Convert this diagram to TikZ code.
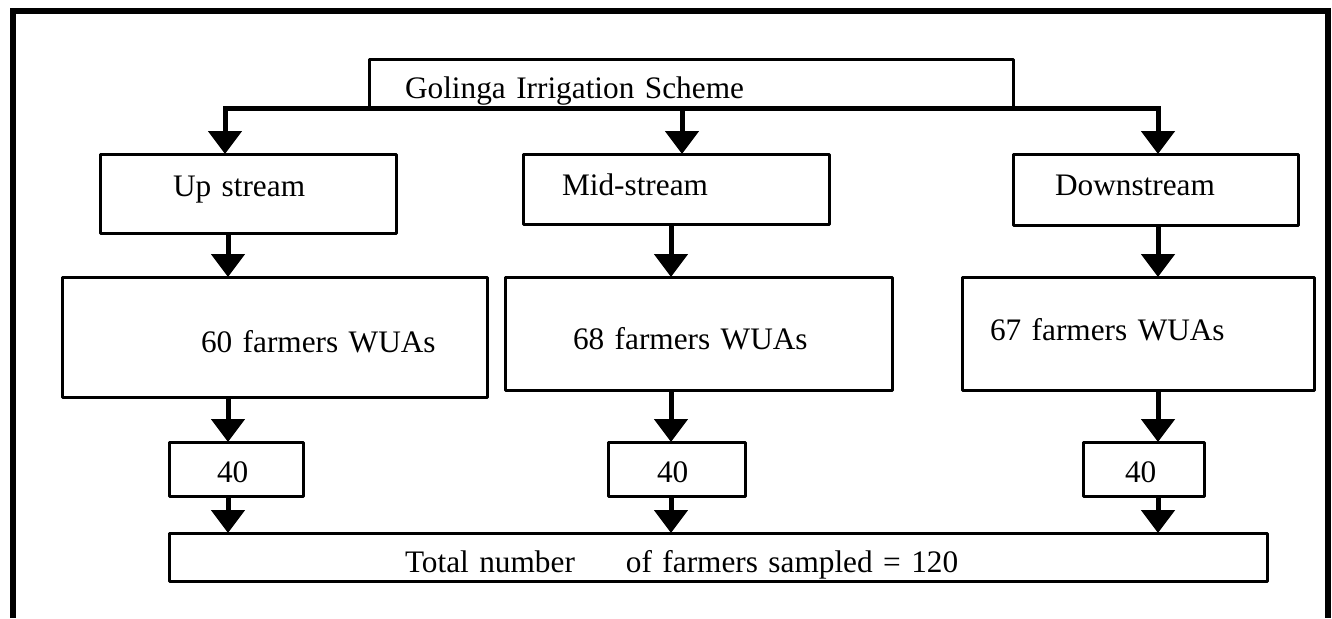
\documentclass[tikz,border=0pt]{standalone}
\usepackage{fontspec}
\setmainfont{Liberation Serif}
\usetikzlibrary{arrows.meta}
\begin{document}
\begin{tikzpicture}[x=1pt,y=-1pt,
  bx/.style={draw, line width=3pt, line join=round, inner sep=0pt, outer sep=0pt,
    align=left, anchor=north west, font=\fontsize{31.3}{38}\selectfont},
  conn/.style={line width=5pt, -{Triangle[width=33pt,length=23pt]}},
  frame/.style={line width=5.5pt, line join=miter}]
\useasboundingbox (0,0) rectangle (1332,618);
% outer frame
\draw[frame] (13,618) -- (13,11) -- (1328,11) -- (1328,618);
% boxes
\node[bx, text width=644pt, text height=38pt, text depth=10pt] (top) at (369,60) {\hspace*{36pt}Golinga Irrigation Scheme};
\node[bx, text width=296pt, text height=42pt, text depth=37pt] (up) at (100,154) {\hspace*{73pt}Up stream};
\node[bx, text width=306pt, text height=41pt, text depth=29pt] (mid) at (523,154) {\hspace*{39pt}Mid-stream};
\node[bx, text width=285pt, text height=41pt, text depth=30pt] (down) at (1013,154) {\hspace*{42pt}Downstream};
\node[bx, text width=425pt, text height=75pt, text depth=45pt] (f60) at (62,277) {\hspace*{139pt}60 farmers WUAs};
\node[bx, text width=387pt, text height=72pt, text depth=41pt] (f68) at (505,277) {\hspace*{68pt}68 farmers WUAs};
\node[bx, text width=352pt, text height=63pt, text depth=50pt] (f67) at (962,277) {\hspace*{28pt}67 farmers WUAs};
\node[bx, text width=134pt, text height=40pt, text depth=14pt] (s1) at (169,442) {\hspace*{48pt}40};
\node[bx, text width=137pt, text height=40pt, text depth=14pt] (s2) at (608,442) {\hspace*{49pt}40};
\node[bx, text width=121pt, text height=40pt, text depth=14pt] (s3) at (1083,442) {\hspace*{42pt}40};
\node[bx, text width=1098pt, text height=39pt, text depth=9pt] (tot) at (169,533) {\hspace*{236pt}Total number\hspace{51pt}of farmers sampled = 120};
% column guides
\coordinate (xa) at (225,0);
\coordinate (xb) at (682,0);
\coordinate (xc) at (1158,0);
\coordinate (xl) at (228,0);
\coordinate (xm) at (671,0);
% connectors
\draw[conn] (top.south) -| (xa |- up.north);
\draw[conn] (top.south) -| (xc |- down.north);
\draw[conn] (xb |- top.south) -- (xb |- mid.north);
\draw[conn] (xl |- up.south) -- (xl |- f60.north);
\draw[conn] (xm |- mid.south) -- (xm |- f68.north);
\draw[conn] (xc |- down.south) -- (xc |- f67.north);
\draw[conn] (xl |- f60.south) -- (xl |- s1.north);
\draw[conn] (xm |- f68.south) -- (xm |- s2.north);
\draw[conn] (xc |- f67.south) -- (xc |- s3.north);
\draw[conn] (xl |- s1.south) -- (xl |- tot.north);
\draw[conn] (xm |- s2.south) -- (xm |- tot.north);
\draw[conn] (xc |- s3.south) -- (xc |- tot.north);
\end{tikzpicture}
\end{document}
